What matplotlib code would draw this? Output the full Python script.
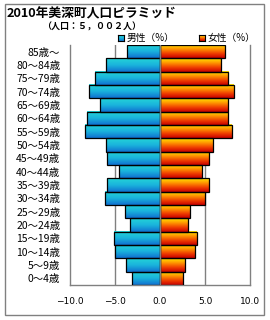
import matplotlib
matplotlib.use('Agg')
import matplotlib.pyplot as plt
import numpy as np
from matplotlib.colors import LinearSegmentedColormap
from matplotlib.patches import Rectangle

plt.rcParams['font.family'] = ['Noto Sans CJK JP', 'DejaVu Sans']

# ------------------ ДАННЫЕ ------------------
ages = ['0～4歳', '5～9歳', '10～14歳', '15～19歳', '20～24歳',
        '25～29歳', '30～34歳', '35～39歳', '40～44歳', '45～49歳',
        '50～54歳', '55～59歳', '60～64歳', '65～69歳', '70～74歳',
        '75～79歳', '80～84歳', '85歳～']
male = [3.1, 3.8, 5.0, 5.1, 3.3, 3.9, 6.1, 5.9, 4.6, 5.9,
        6.0, 8.3, 8.1, 6.7, 7.9, 7.2, 6.0, 3.7]
female = [2.5, 2.8, 3.9, 4.1, 3.1, 3.3, 5.0, 5.4, 4.7, 5.4,
          5.9, 8.0, 7.5, 7.6, 8.2, 7.6, 6.8, 7.2]
xticks = [-10, -5, 0, 5, 10]

title = '2010年美深町人口ピラミッド'
subtitle = '（人口：５，００２人）'

# gradients: top -> bottom
cm_male = LinearSegmentedColormap.from_list('m', ['#24d4d8', '#1ab4dc', '#1070d0'])
cm_female = LinearSegmentedColormap.from_list('f', ['#ffe800', '#ff9800', '#f04000', '#c80000'])
grad = np.linspace(0, 1, 64).reshape(-1, 1)

W, H = 270, 320
fig = plt.figure(figsize=(W / 100, H / 100), dpi=100)
ax = fig.add_axes([70 / W, 1 - 285 / H, 180 / W, 240 / H])

y = np.arange(len(ages))
bars_m = ax.barh(y, [-v for v in male], height=1.0, facecolor='none',
                 edgecolor='black', linewidth=0.9, zorder=3)
bars_f = ax.barh(y, female, height=1.0, facecolor='none',
                 edgecolor='black', linewidth=0.9, zorder=3)

for bars, cm in ((bars_m, cm_male), (bars_f, cm_female)):
    for b in bars:
        x0, y0, w, h = b.get_x(), b.get_y(), b.get_width(), b.get_height()
        ax.imshow(grad, cmap=cm, aspect='auto', interpolation='bilinear',
                  extent=[x0, x0 + w, y0, y0 + h], zorder=2)

ax.set_xlim(-10, 10)
ax.set_ylim(-0.5, len(ages) - 0.5)
ax.set_xticks(xticks)
ax.set_xticklabels([f'{v:.1f}'.replace('-', '−') for v in xticks],
                   fontsize=6.5, family='DejaVu Sans')
ax.set_yticks(y)
ax.set_yticklabels(ages, fontsize=7.5)
ax.tick_params(axis='y', length=0, pad=7)
ax.tick_params(axis='x', length=0, pad=9)

for v in (-5, 0, 5):
    ax.axvline(v, color='#808080', linewidth=1, zorder=4 if v == 0 else 1)
ax.spines['top'].set_visible(False)
for s in ('left', 'right', 'bottom'):
    ax.spines[s].set_color('#808080')
    ax.spines[s].set_linewidth(1)

# titles
fig.text(7 / W, 1 - 14 / H, title, fontsize=9.2, fontweight='bold', va='center', ha='left')
fig.text(92 / W, 1 - 27 / H, subtitle, fontsize=6.5, fontweight='bold', va='center', ha='center')

# legend
for lx, cm, label in ((118, cm_male, '男性（%）'), (199, cm_female, '女性（%）')):
    lax = fig.add_axes([lx / W, 1 - 41 / H, 6 / W, 6 / H])
    lax.imshow(grad, cmap=cm, aspect='auto', interpolation='bilinear')
    lax.set_xticks([])
    lax.set_yticks([])
    for s in lax.spines.values():
        s.set_linewidth(0.8)
    fig.text((lx + 9) / W, 1 - 38 / H, label, fontsize=7, va='center', ha='left')

# outer frame
fig.patches.append(Rectangle((5 / W, 1 - 315 / H), 259 / W, 311 / H, fill=False,
                             edgecolor='#808080', linewidth=1, transform=fig.transFigure))

fig.savefig('out.png', dpi=100)
